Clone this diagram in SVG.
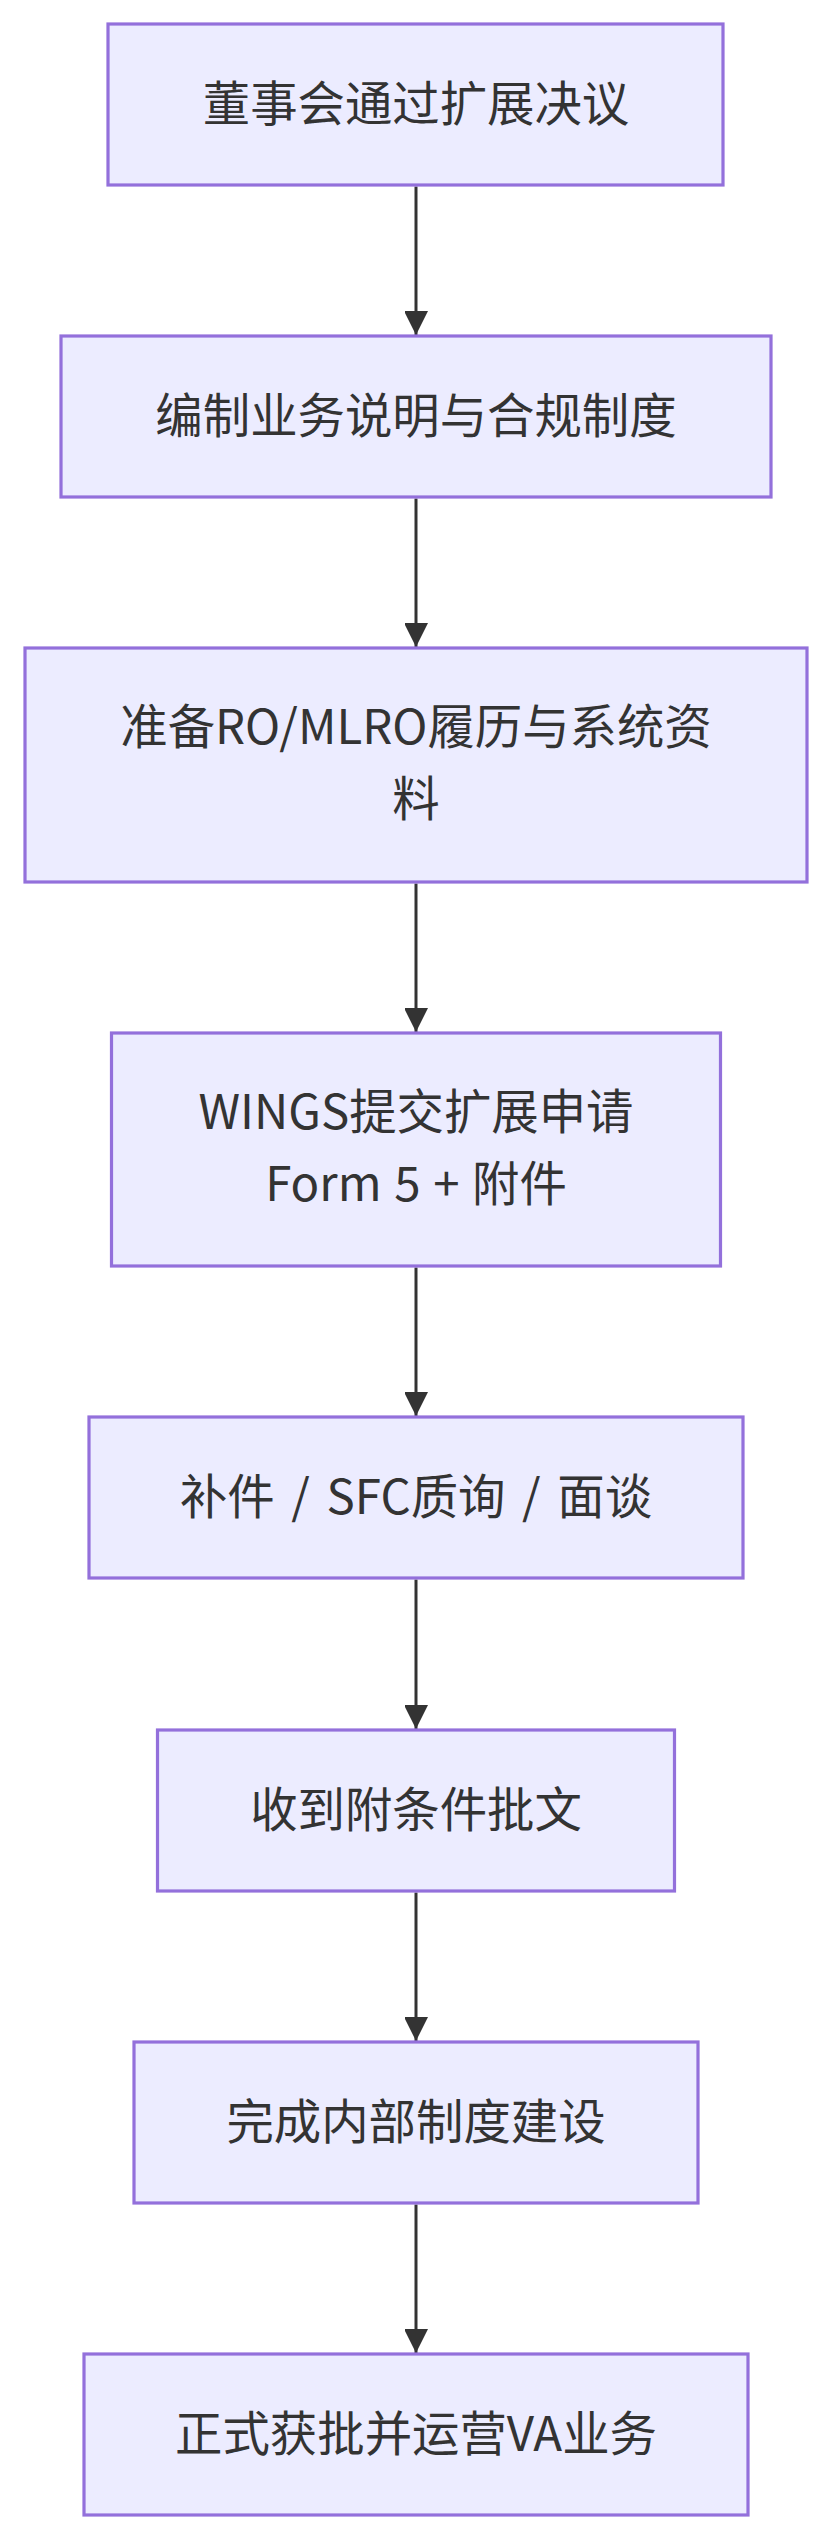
<svg xmlns="http://www.w3.org/2000/svg" width="828" height="2538" viewBox="0 0 828 2538">
<defs>
<style>
.node rect{fill:#ECECFF;stroke:#9370DB;stroke-width:3.2}
.node text{font-family:"Noto Sans CJK SC","Noto Sans",sans-serif;font-size:47.4px;fill:#333333;text-anchor:middle}
.edge{stroke:#333333;stroke-width:3;fill:none}
</style>
<marker id="arrow" markerUnits="userSpaceOnUse" viewBox="0 0 24 23" refX="24" refY="12" markerWidth="24" markerHeight="23" orient="auto">
<path d="M0,0 L24,12 L0,24 z" fill="#333333"/>
</marker>
</defs>
<rect width="828" height="2538" fill="#ffffff"/>
<g id="connectors">
<path class="edge" d="M416,186.5 L416,335" marker-end="url(#arrow)"/>
<path class="edge" d="M416,498.5 L416,647" marker-end="url(#arrow)"/>
<path class="edge" d="M416,883.5 L416,1032" marker-end="url(#arrow)"/>
<path class="edge" d="M416,1267.5 L416,1416" marker-end="url(#arrow)"/>
<path class="edge" d="M416,1579.5 L416,1729" marker-end="url(#arrow)"/>
<path class="edge" d="M416,1892.5 L416,2041" marker-end="url(#arrow)"/>
<path class="edge" d="M416,2204.5 L416,2353" marker-end="url(#arrow)"/>
</g>
<g id="n1" class="node">
<rect x="108" y="24" width="615" height="161"/>
<text x="416" y="121">董事会通过扩展决议</text>
</g>
<g id="n2" class="node">
<rect x="61" y="336" width="710" height="161"/>
<text x="416" y="433">编制业务说明与合规制度</text>
</g>
<g id="n3" class="node">
<rect x="25" y="648" width="782" height="234"/>
<text x="416" y="744">准备RO/MLRO履历与系统资</text>
<text x="416" y="816">料</text>
</g>
<g id="n4" class="node">
<rect x="111.5" y="1033" width="609" height="233"/>
<text x="416" y="1129">WINGS提交扩展申请</text>
<text x="416" y="1201" word-spacing="2">Form 5 + 附件</text>
</g>
<g id="n5" class="node">
<rect x="89" y="1417" width="654" height="161"/>
<text x="416" y="1514" word-spacing="6">补件 / SFC质询 / 面谈</text>
</g>
<g id="n6" class="node">
<rect x="157.5" y="1730" width="517" height="161"/>
<text x="416" y="1827">收到附条件批文</text>
</g>
<g id="n7" class="node">
<rect x="134" y="2042" width="564" height="161"/>
<text x="416" y="2139">完成内部制度建设</text>
</g>
<g id="n8" class="node">
<rect x="84" y="2354" width="664" height="161"/>
<text x="416" y="2451">正式获批并运营VA业务</text>
</g>
</svg>
